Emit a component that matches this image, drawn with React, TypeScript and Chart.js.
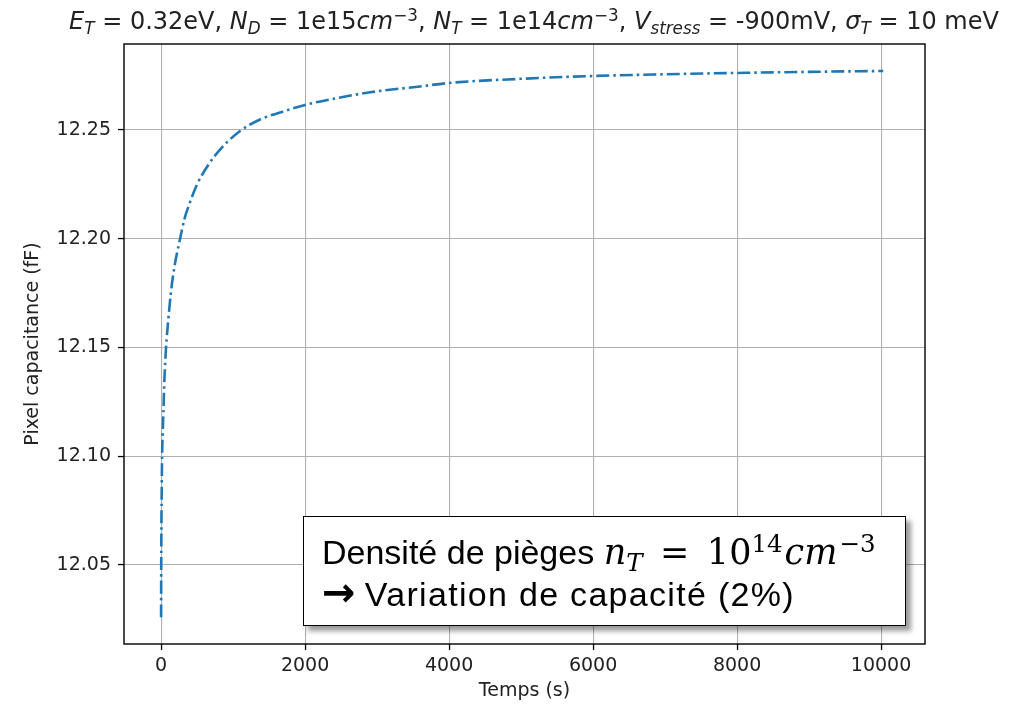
import React, { useEffect, useRef } from "react";
import { Chart, registerables } from "chart.js";

Chart.register(...registerables);

// ---- data ----
const timeS = [0, 2, 5, 9, 14, 22, 32, 46, 69, 101, 139, 185, 264, 324, 393, 500, 657, 819, 1097, 1375, 1745, 2000, 2440, 2903, 3597, 4000, 5000, 6000, 7000, 8000, 9000, 10030];
const capFF = [12.026, 12.05, 12.07, 12.085, 12.1, 12.11, 12.12, 12.135, 12.15, 12.163, 12.176, 12.187, 12.2, 12.209, 12.216, 12.225, 12.234, 12.241, 12.2495, 12.2548, 12.259, 12.2615, 12.2646, 12.2673, 12.27, 12.2716, 12.2735, 12.2748, 12.2756, 12.2762, 12.2767, 12.2771];
const xTicks = [0, 2000, 4000, 6000, 8000, 10000];
const yTicks = [12.05, 12.1, 12.15, 12.2, 12.25];
const xTitle = "Temps (s)";
const yTitle = "Pixel capacitance (fF)";

const W = 1012;
const H = 706;
const PLOT = { left: 124, right: 925, top: 44, bottom: 644 };

const framePlugin = {
  id: "frame",
  afterDraw(chart: any) {
    const { ctx, chartArea } = chart;
    ctx.save();
    ctx.strokeStyle = "#000";
    ctx.lineWidth = 1.4;
    ctx.strokeRect(chartArea.left, chartArea.top, chartArea.right - chartArea.left, chartArea.bottom - chartArea.top);
    ctx.restore();
  },
};

const supStyle: React.CSSProperties = { fontSize: "0.7em", verticalAlign: "0.5em", lineHeight: 0 };
const subStyle: React.CSSProperties = { fontSize: "0.7em", verticalAlign: "-0.3em", lineHeight: 0 };

export default function App() {
  const ref = useRef<HTMLCanvasElement | null>(null);

  useEffect(() => {
    if (!ref.current) return;
    const tickFont = { family: "'DejaVu Sans'", size: 19 };
    const chart = new Chart(ref.current, {
      type: "line",
      data: {
        datasets: [
          {
            data: timeS.map((t, i) => ({ x: t, y: capFF[i] })),
            borderColor: "#1f77b4",
            borderWidth: 2.6,
            borderDash: [13, 4, 2.5, 4],
            pointRadius: 0,
            cubicInterpolationMode: "monotone",
            fill: false,
          },
        ],
      },
      options: {
        responsive: false,
        animation: false,
        devicePixelRatio: 1,
        layout: { padding: { left: 0, top: PLOT.top, right: W - PLOT.right, bottom: 0 } },
        plugins: { legend: { display: false }, tooltip: { enabled: false }, title: { display: false } },
        scales: {
          x: {
            type: "linear",
            min: -515,
            max: 10610,
            afterFit: (s: any) => { s.height = H - PLOT.bottom; },
            afterBuildTicks: (s: any) => { s.ticks = xTicks.map((v) => ({ value: v })); },
            ticks: { color: "#222", font: tickFont, padding: 5, maxRotation: 0, autoSkip: false, callback: (v: any) => String(v) },
            grid: { color: "#b0b0b0", lineWidth: 1.1, tickLength: 6, tickColor: "#000", tickWidth: 1.3 },
            border: { display: false },
            title: { display: true, text: xTitle, color: "#222", font: tickFont, padding: { top: 0, bottom: 4 } },
          },
          y: {
            type: "linear",
            min: 12.0137,
            max: 12.2895,
            afterFit: (s: any) => { s.width = PLOT.left; },
            afterBuildTicks: (s: any) => { s.ticks = yTicks.map((v) => ({ value: v })); },
            ticks: { color: "#222", font: tickFont, padding: 7, autoSkip: false, callback: (v: any) => Number(v).toFixed(2) },
            grid: { color: "#b0b0b0", lineWidth: 1.1, tickLength: 6, tickColor: "#000", tickWidth: 1.3 },
            border: { display: false },
            title: { display: true, text: yTitle, color: "#222", font: tickFont, padding: { top: 22, bottom: 0 } },
          },
        },
      },
      plugins: [framePlugin],
    } as any);
    return () => chart.destroy();
  }, []);

  return (
    <div style={{ position: "fixed", left: 0, top: 0, width: W, height: H, background: "#fff", overflow: "hidden" }}>
      <canvas ref={ref} width={W} height={H} style={{ position: "absolute", left: 0, top: 0, width: W, height: H }} />
      <div
        style={{
          position: "absolute",
          left: 534,
          top: 8,
          transform: "translateX(-50%)",
          whiteSpace: "nowrap",
          fontFamily: "'DejaVu Sans'",
          fontSize: 24,
          lineHeight: "26px",
          color: "#222",
        }}
      >
        <i>E</i><sub style={subStyle}><i>T</i></sub> = 0.32eV, <i>N</i><sub style={subStyle}><i>D</i></sub> = 1e15<i>cm</i>
        <sup style={supStyle}>−3</sup>, <i>N</i><sub style={subStyle}><i>T</i></sub> = 1e14<i>cm</i><sup style={supStyle}>−3</sup>,{" "}
        <i>V</i><sub style={subStyle}><i>stress</i></sub> = -900mV, <i>σ</i><sub style={subStyle}><i>T</i></sub> = 10 meV
      </div>
      <div
        style={{
          position: "absolute",
          left: 303,
          top: 516,
          width: 603,
          height: 110,
          boxSizing: "border-box",
          border: "1.5px solid #000",
          background: "#fff",
          boxShadow: "5px 5px 5px rgba(0,0,0,0.4)",
          padding: "14px 0 0 18px",
          fontFamily: "'Liberation Sans', Arial, sans-serif",
          fontSize: 34,
          lineHeight: "42px",
          color: "#000",
          whiteSpace: "nowrap",
        }}
      >
        <div>
          Densité de pièges{" "}
          <span style={{ fontFamily: "'DejaVu Serif', serif", fontSize: 35 }}>
            <i>n</i>
            <sub style={subStyle}><i>T</i></sub>
            <span style={{ margin: "0 0.5em" }}>=</span>10<sup style={supStyle}>14</sup>
            <i style={{ marginLeft: 2 }}>cm</i>
            <sup style={{ ...supStyle, marginLeft: 2 }}>−3</sup>
          </span>
        </div>
        <div style={{ letterSpacing: "1.3px" }}>
          <span style={{ fontFamily: "'DejaVu Sans'", fontWeight: "bold", fontSize: 40, lineHeight: 0, marginRight: 8 }}>→</span>Variation de capacité (2%)
        </div>
      </div>
    </div>
  );
}
